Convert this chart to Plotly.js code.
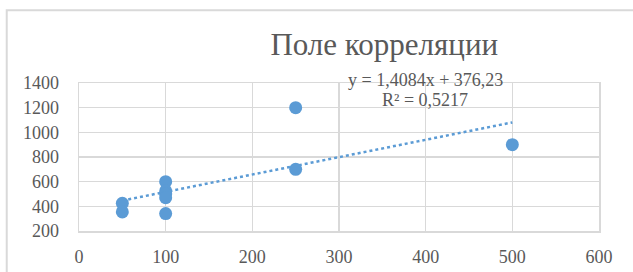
<!DOCTYPE html>
<html>
<head>
<meta charset="utf-8">
<script src="https://cdn.plot.ly/plotly-3.0.1.min.js"></script>
<style>html,body{margin:0;padding:0;background:#fff;}#chart{width:633px;height:272px;}</style>
</head>
<body>
<div id="chart"></div>
<script>
// Data
const xValues = [50, 50, 100, 100, 100, 100, 100, 250, 250, 500];
const yValues = [425, 355, 600, 525, 500, 470, 341, 1200, 700, 900];
const trendSlope = 1.4084;
const trendIntercept = 376.23;
const trendX = [50, 500];
const equationText = "y = 1,4084x + 376,23";
const r2Text = "R² = 0,5217";
const titleText = "Поле корреляции";
const xTicks = [0, 100, 200, 300, 400, 500, 600];
const yTicks = [200, 400, 600, 800, 1000, 1200, 1400];

const font = "Liberation Serif, Times New Roman, serif";
const grey = "#595959";
const blue = "#5b9bd5";

const scatter = {
  x: xValues, y: yValues, type: "scatter", mode: "markers",
  marker: {color: blue, size: 13},
  hoverinfo: "none", cliponaxis: false
};
const trend = {
  x: trendX, y: trendX.map(v => trendSlope * v + trendIntercept),
  type: "scatter", mode: "lines",
  line: {color: blue, width: 2.5, dash: "dot"},
  hoverinfo: "none"
};

const layout = {
  width: 633, height: 272,
  margin: {l: 79.3, r: 33.5, t: 82.7, b: 41.3},
  paper_bgcolor: "#fff", plot_bgcolor: "#fff",
  showlegend: false,
  font: {family: font, color: grey, size: 18},
  title: {text: titleText, font: {family: font, size: 31, color: grey},
          xref: "container", x: 0.607, xanchor: "center",
          yref: "container", y: 1 - 44/272, yanchor: "middle"},
  xaxis: {range: [0, 600], tickvals: xTicks, ticktext: xTicks.map(String),
          showgrid: true, gridcolor: "#d9d9d9", gridwidth: 1.5,
          zeroline: false, showline: true, mirror: true, linecolor: "#d9d9d9", linewidth: 1.5,
          ticks: "", ticklabelstandoff: 9, tickfont: {family: font, size: 18, color: grey}},
  yaxis: {range: [200, 1400], tickvals: yTicks, ticktext: yTicks.map(String),
          showgrid: true, gridcolor: "#d9d9d9", gridwidth: 1.5,
          zeroline: false, showline: true, mirror: true, linecolor: "#d9d9d9", linewidth: 1.5,
          ticks: "", ticklabelstandoff: 15, tickfont: {family: font, size: 18, color: grey}},
  annotations: [
    {text: equationText, xref: "paper", yref: "paper", x: (425.5 - 79.3) / 520.2, y: (230.7 - 80) / 148,
     showarrow: false, xanchor: "center", yanchor: "middle", font: {family: font, size: 18, color: grey}},
    {text: r2Text, xref: "paper", yref: "paper", x: (425.5 - 79.3) / 520.2, y: (230.7 - 99.5) / 148,
     showarrow: false, xanchor: "center", yanchor: "middle", font: {family: font, size: 18, color: grey}}
  ],
  shapes: [
    {type: "rect", xref: "paper", yref: "paper",
     x0: (7 - 79.3) / 520.2, x1: (645 - 79.3) / 520.2,
     y0: (230.7 - 290) / 148, y1: (230.7 - 10) / 148,
     line: {color: "#d9d9d9", width: 2}, fillcolor: "rgba(0,0,0,0)", layer: "below"}
  ]
};

Plotly.newPlot("chart", [trend, scatter], layout, {staticPlot: true, displayModeBar: false});
</script>
</body>
</html>
